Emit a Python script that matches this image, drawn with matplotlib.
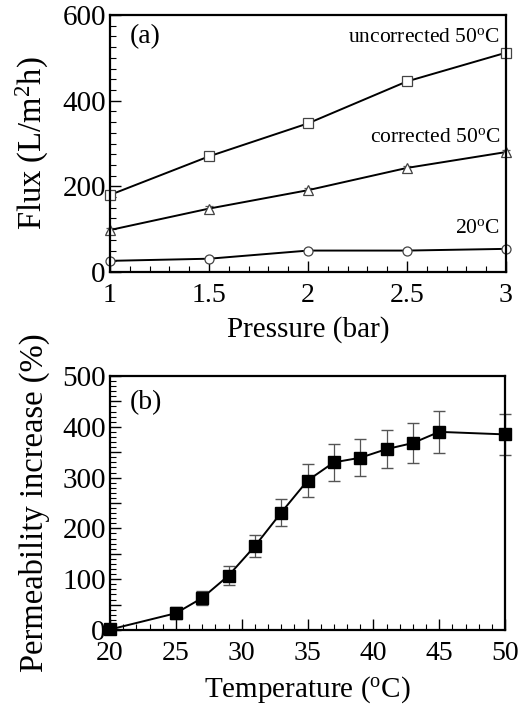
import matplotlib
matplotlib.use('Agg')
import matplotlib.pyplot as plt
from matplotlib.ticker import MultipleLocator, FuncFormatter

plt.rcParams['font.family'] = ['Liberation Serif', 'DejaVu Serif']
plt.rcParams['mathtext.default'] = 'regular'

# (a) flux vs pressure
pressure = [1, 1.5, 2, 2.5, 3]
flux_uncorr = [180, 270, 347, 445, 512]
flux_corr = [98, 148, 191, 243, 280]
flux_20 = [26, 31, 50, 50, 54]
err_uncorr = [6, 6, 6, 6, 6]
err_corr = [5, 5, 5, 5, 5]
err_20 = [3, 3, 3, 3, 3]

# (b) permeability increase vs temperature
temp = [20, 25, 27, 29, 31, 33, 35, 37, 39, 41, 43, 45, 50]
perm = [1, 33, 63, 107, 165, 231, 294, 330, 339, 356, 368, 390, 385]
perm_err = [0, 12, 14, 18, 21, 27, 32, 36, 36, 38, 40, 41, 41]

fig = plt.figure(figsize=(5.18, 7.05), dpi=100)
ax1 = fig.add_axes([0.2124, 0.6142, 0.7644, 0.3645])
ax2 = fig.add_axes([0.2124, 0.1064, 0.7625, 0.3603])

mk = dict(mfc='white', mec='#444444', mew=0.9, ms=6.5, color='black', lw=1.4,
          ecolor='#555555', elinewidth=0.8, capsize=3)
ax1.errorbar(pressure, flux_uncorr, yerr=err_uncorr, marker='s', clip_on=False, **mk)
ax1.errorbar(pressure, flux_corr, yerr=err_corr, marker='^', clip_on=False, **mk)
ax1.errorbar(pressure, flux_20, yerr=err_20, marker='o', clip_on=False, **mk)

ax1.set_xlim(1, 3)
ax1.set_ylim(0, 600)
ax1.xaxis.set_major_locator(MultipleLocator(0.5))
ax1.xaxis.set_minor_locator(MultipleLocator(0.1))
ax1.yaxis.set_major_locator(MultipleLocator(200))
ax1.yaxis.set_minor_locator(MultipleLocator(25))
ax1.xaxis.set_major_formatter(FuncFormatter(lambda v, p: '%g' % v))
ax1.set_xlabel('Pressure (bar)', fontsize=21, labelpad=6)
ax1.set_ylabel('Flux (L/m$^{2}$h)', fontsize=23.5, labelpad=8)
ax1.text(0.05, 0.89, '(a)', transform=ax1.transAxes, fontsize=20)
ax1.text(2.97, 548, 'uncorrected 50$^{o}$C', ha='right', va='center', fontsize=15.5)
ax1.text(2.97, 315, 'corrected 50$^{o}$C', ha='right', va='center', fontsize=15.5)
ax1.text(2.97, 102, '20$^{o}$C', ha='right', va='center', fontsize=15.5)

ax2.errorbar(temp, perm, yerr=perm_err, marker='s', mfc='black', mec='black', ms=9,
             color='black', lw=1.4, ecolor='#555555', elinewidth=0.9, capsize=4,
             clip_on=False)
ax2.set_xlim(20, 50)
ax2.set_ylim(0, 500)
ax2.xaxis.set_major_locator(MultipleLocator(5))
ax2.xaxis.set_minor_locator(MultipleLocator(1))
ax2.yaxis.set_major_locator(MultipleLocator(50))
ax2.yaxis.set_minor_locator(MultipleLocator(10))
ax2.yaxis.set_major_formatter(FuncFormatter(lambda v, p: '%d' % v if v % 100 == 0 else ''))
ax2.set_xlabel('Temperature ($^{o}$C)', fontsize=21, labelpad=6)
ax2.set_ylabel('Permeability increase (%)', fontsize=23.5, labelpad=9)
ax2.text(0.05, 0.87, '(b)', transform=ax2.transAxes, fontsize=20)

for ax in (ax1, ax2):
    for s in ax.spines.values():
        s.set_linewidth(1.6)
    ax.tick_params(which='both', direction='in', labelsize=21, top=False, right=False)
    ax.tick_params(which='major', length=8, width=1.0)
    ax.tick_params(which='minor', length=4, width=0.8)
    ax.tick_params(axis='x', pad=8, labelsize=20)
    ax.tick_params(axis='y', pad=3)

fig.savefig('out.png', dpi=100)
